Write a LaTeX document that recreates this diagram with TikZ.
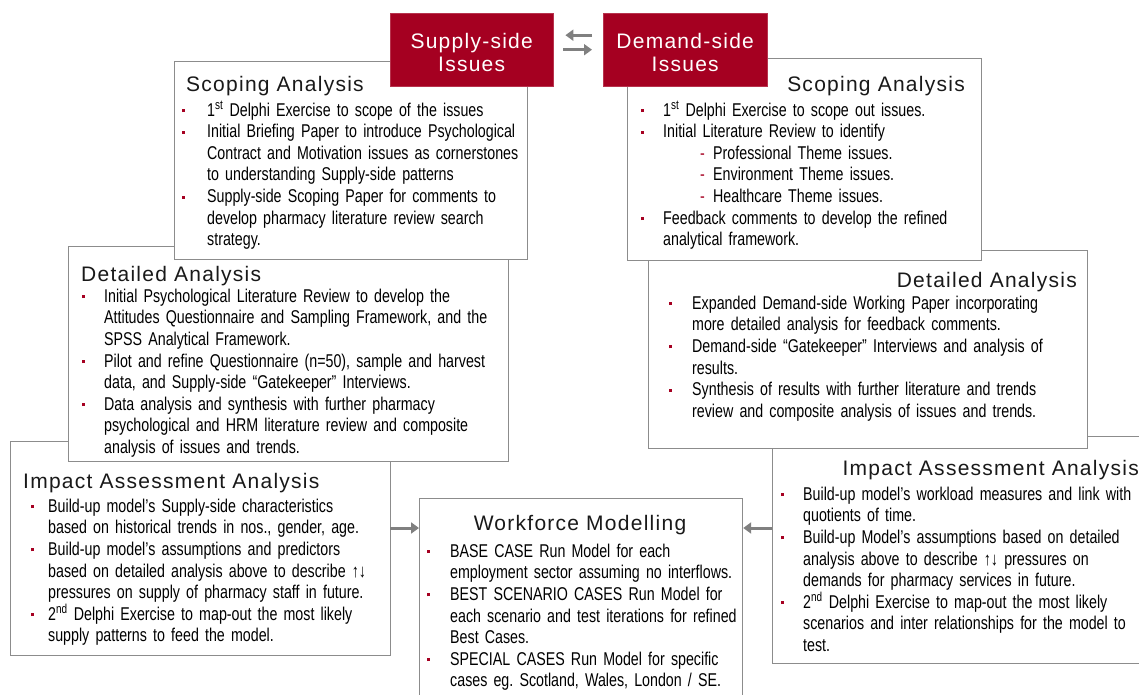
\documentclass[tikz,border=0pt]{standalone}
\usepackage{fontspec}
\setmainfont{Liberation Sans}[FakeStretch=0.77,WordSpace=0.85]
\newfontfamily\headfont{Liberation Sans}[LetterSpace=6]
\usetikzlibrary{arrows.meta}
\definecolor{bred}{HTML}{A50021}
\definecolor{cardgray}{HTML}{8C8C8C}
\definecolor{flowgray}{HTML}{808080}
\newenvironment{points}[1]{%
  \begin{list}{\textcolor{bred}{\rule[4pt]{3pt}{3pt}}}{%
    \setlength{\leftmargin}{#1}\setlength{\labelwidth}{0pt}\setlength{\labelsep}{#1}%
    \setlength{\itemsep}{0pt}\setlength{\topsep}{0pt}\setlength{\parsep}{0pt}%
    \setlength{\partopsep}{0pt}\setlength{\itemindent}{0pt}%
    \renewcommand{\makelabel}[1]{\rlap{##1}\strut}}}%
  {\end{list}}
\newcommand{\subpt}[1]{\\\hspace*{37pt}\makebox[13pt][l]{\textcolor{bred}{-}}#1}
\tikzstyle{card}=[draw=cardgray,line width=1.2pt,fill=white,anchor=north west,inner sep=0pt]
\tikzstyle{issue}=[fill=bred,draw=bred!80!white,anchor=north west,inner sep=0pt]
\tikzstyle{issuetext}=[inner sep=0pt,text=white,align=center,font=\headfont\fontsize{21}{23}\selectfont]
\tikzstyle{title}=[inner sep=0pt,text=black!90,font=\headfont\fontsize{21}{24}\selectfont]
\tikzstyle{body}=[anchor=north west,inner sep=0pt,text width=470pt,align=left,font=\fontsize{18.5}{21.6}\selectfont]
\tikzstyle{flow}=[draw=flowgray,line width=3pt,-{Triangle[length=8pt,width=11pt]}]

\begin{document}
\begin{tikzpicture}[x=1pt,y=-1pt]
    \useasboundingbox (0,0) rectangle (1139,695);
    \clip (0,0) rectangle (1139,695);
        \node[card,minimum width=380pt,minimum height=214pt] (supImpact) at (10,441) {};
        \node[card,minimum width=440pt,minimum height=215pt] (supDetail) at (68,246) {};
        \node[card,minimum width=353pt,minimum height=198pt] (supScope) at (174,61) {};
        \node[card,minimum width=323pt,minimum height=212pt] (model) at (419,498) {};
        \node[card,minimum width=378pt,minimum height=227pt] (demImpact) at (772,436) {};
        \node[card,minimum width=439pt,minimum height=198pt] (demDetail) at (648,250) {};
        \node[card,minimum width=354pt,minimum height=202pt] (demScope) at (627,58) {};
        \node[issue,minimum width=163pt,minimum height=73pt] (supIssue) at (390,13) {};
        \node[issue,minimum width=164pt,minimum height=73pt] (demIssue) at (603,13) {};
        \node[issuetext,yshift=-3pt] (supIssueT) at (supIssue.center) {Supply-side\\Issues};
        \node[issuetext,yshift=-3pt] (demIssueT) at (demIssue.center) {Demand-side\\Issues};

        \node[title,anchor=base west] (supScopeT) at (186,92) {Scoping Analysis};
        \node[body] (supScopeB) at (182,94.4) {\begin{points}{25pt}
            \item 1\textsuperscript{st} Delphi Exercise to scope of the issues
            \item Initial Briefing Paper to introduce Psychological\\Contract and Motivation issues as cornerstones\\to understanding Supply-side patterns
            \item Supply-side Scoping Paper for comments to\\develop pharmacy literature review search\\strategy.
        \end{points}};

        \node[title,anchor=base west] (supDetailT) at (81,281) {Detailed Analysis};
        \node[body] (supDetailB) at (82,280.4) {\begin{points}{22pt}
            \item Initial Psychological Literature Review to develop the\\Attitudes Questionnaire and Sampling Framework, and the\\SPSS Analytical Framework.
            \item Pilot and refine Questionnaire (n=50), sample and harvest\\data, and Supply-side “Gatekeeper” Interviews.
            \item Data analysis and synthesis with further pharmacy\\psychological and HRM literature review and composite\\analysis of issues and trends.
        \end{points}};

        \node[title,anchor=base west] (supImpactT) at (23,488) {Impact Assessment Analysis};
        \node[body] (supImpactB) at (31,490.4) {\begin{points}{17pt}
            \item Build-up model’s Supply-side characteristics\\based on historical trends in nos., gender, age.
            \item Build-up model’s assumptions and predictors\\based on detailed analysis above to describe ↑↓\\pressures on supply of pharmacy staff in future.
            \item 2\textsuperscript{nd} Delphi Exercise to map-out the most likely\\supply patterns to feed the model.
        \end{points}};

        \node[title,anchor=base] (modelT) at (580,530) {Workforce Modelling};
        \node[body] (modelB) at (427,535.4) {\begin{points}{23pt}
            \item BASE CASE Run Model for each\\employment sector assuming no interflows.
            \item BEST SCENARIO CASES Run Model for\\each scenario and test iterations for refined\\Best Cases.
            \item SPECIAL CASES Run Model for specific\\cases eg.\ Scotland, Wales, London / SE.
        \end{points}};

        \node[title,anchor=base east] (demScopeT) at (965,92) {Scoping Analysis};
        \node[body] (demScopeB) at (641,94.4) {\begin{points}{22pt}
            \item 1\textsuperscript{st} Delphi Exercise to scope out issues.
            \item Initial Literature Review to identify\subpt{Professional Theme issues.}\subpt{Environment Theme issues.}\subpt{Healthcare Theme issues.}
            \item Feedback comments to develop the refined\\analytical framework.
        \end{points}};

        \node[title,anchor=base east] (demDetailT) at (1077,287) {Detailed Analysis};
        \node[body] (demDetailB) at (669,287.4) {\begin{points}{23pt}
            \item Expanded Demand-side Working Paper incorporating\\more detailed analysis for feedback comments.
            \item Demand-side “Gatekeeper” Interviews and analysis of\\results.
            \item Synthesis of results with further literature and trends\\review and composite analysis of issues and trends.
        \end{points}};

        \node[title,anchor=base east] (demImpactT) at (1139,475) {Impact Assessment Analysis};
        \node[body] (demImpactB) at (781,478.4) {\begin{points}{22pt}
            \item Build-up model’s workload measures and link with\\quotients of time.
            \item Build-up Model’s assumptions based on detailed\\analysis above to describe ↑↓ pressures on\\demands for pharmacy services in future.
            \item 2\textsuperscript{nd} Delphi Exercise to map-out the most likely\\scenarios and inter relationships for the model to\\test.
        \end{points}};

        \coordinate (inL) at (390,528);
        \coordinate (inR) at (772,528);
        \path[flow] (inL) -- (inL -| model.west);
        \path[flow] (inR) -- (inR -| model.east);
        \path[flow] ([xshift=-11pt,yshift=14.5pt]demIssue.west) -- ([xshift=12pt,yshift=14.5pt]supIssue.east);
        \path[flow] ([xshift=10pt]supIssue.east) -- ([xshift=-11pt]demIssue.west);
\end{tikzpicture}
\end{document}
